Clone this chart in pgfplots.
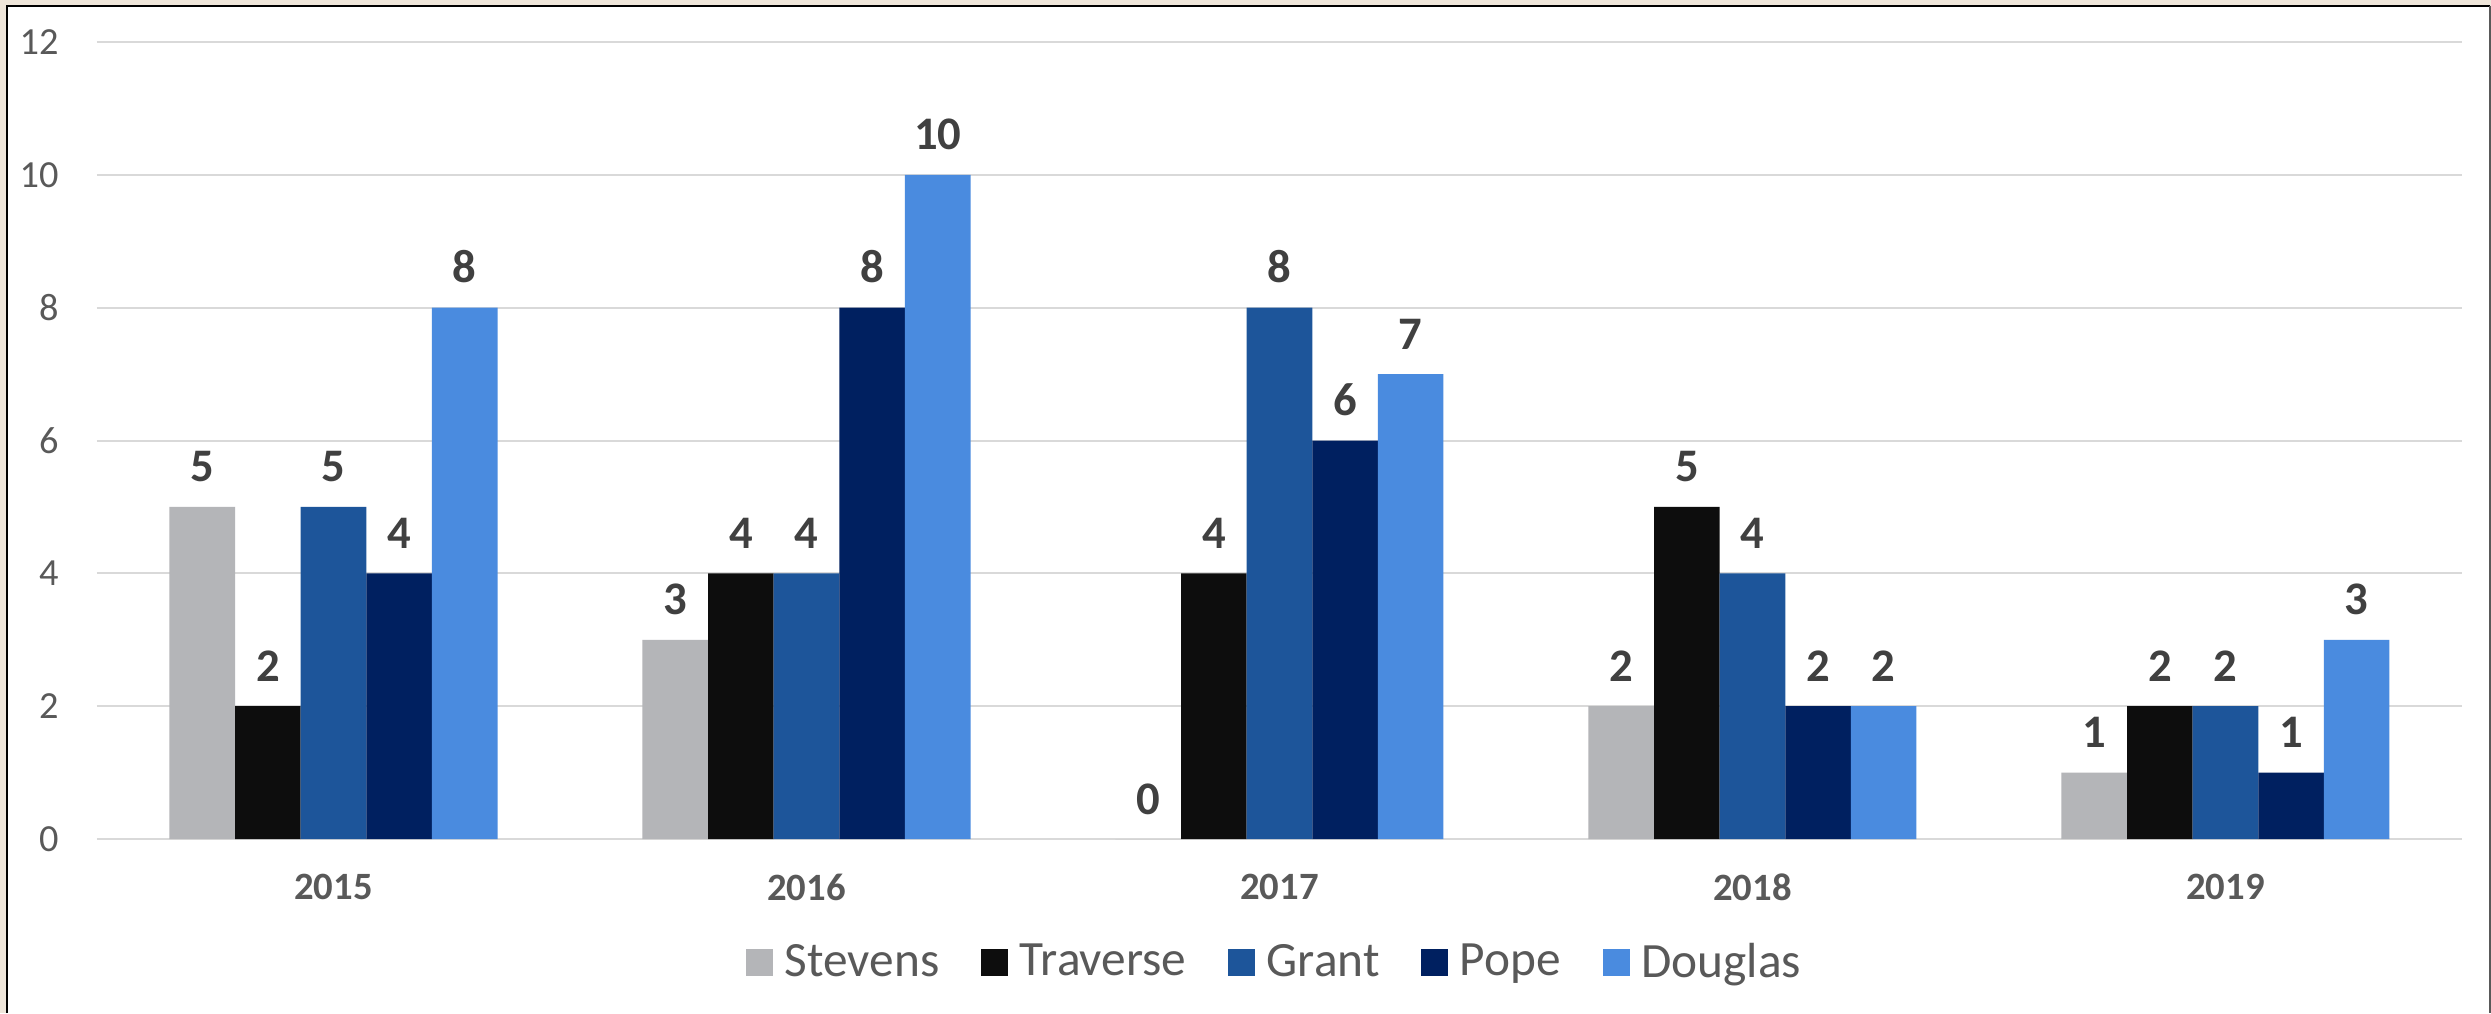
\documentclass[border=0pt]{standalone}
\usepackage{pgfplots}
\pgfplotsset{compat=1.18}
\usepackage{fontspec}
\setmainfont{Carlito}

\definecolor{stevens}{HTML}{B4B5B8}
\definecolor{traverse}{HTML}{0D0D0D}
\definecolor{grant}{HTML}{1D559A}
\definecolor{pope}{HTML}{002060}
\definecolor{douglas}{HTML}{4A8BDF}
\definecolor{framebg}{HTML}{EFE6DA}
\definecolor{gridgray}{HTML}{D9D9D9}
\definecolor{labgray}{HTML}{595959}
\definecolor{valgray}{HTML}{404040}

\begin{document}
\begin{tikzpicture}
    % screenshot frame, 1 px = 0.3pt
    \begin{scope}[x=0.3pt,y=0.3pt]
    \useasboundingbox (0,0) rectangle (2491,1013);
    \fill[framebg] (0,0) rectangle (2491,1013);
    \fill[white] (7,0) rectangle (2490,1007);
    \draw[line width=0.6pt, black] (7,0) -- (7,1007) -- (2490,1007);
    \draw[line width=0.6pt, black!65] (2490,1007) -- (2490,0);
    \end{scope}

    \begin{axis}[
        at={(29.1pt,52.2pt)}, anchor=south west,
        scale only axis,
        width=709.5pt,
        height=239.1pt,
        ybar=0pt,
        bar width=0.1387,
        xmin=-0.5, xmax=4.5,
        ymin=0, ymax=12,
        xtick={0,1,2,3,4},
        xticklabels={2015,2016,2017,2018,2019},
        ytick={0,2,4,6,8,10,12},
        major tick length=0pt,
        axis line style={draw=none},
        ymajorgrids=true,
        grid style={gridgray, line width=0.6pt},
        /pgf/number format/assume math mode=true,
        yticklabel style={font=\fontsize{11.5}{13}\selectfont, text=labgray, anchor=east, xshift=-8pt},
        xticklabel style={font=\fontsize{11.6}{13}\selectfont\bfseries, text=labgray, anchor=north, yshift=-7pt},
        nodes near coords,
        every node near coord/.append style={font=\fontsize{14}{16}\selectfont\bfseries, text=valgray, anchor=south, inner sep=0pt, yshift=7.2pt},
        legend columns=5,
        legend style={draw=none, fill=none, at={(0.5,-0.155)}, anchor=center,
            font=\fontsize{14.8}{17}\selectfont, text=labgray,
            /tikz/every even column/.append style={column sep=9pt},
            nodes={inner sep=3.5pt}},
        legend image code/.code={\fill[#1] (0pt,-4.05pt) rectangle (8.1pt,4.05pt);},
    ]

    \addplot[fill=stevens, draw=none] coordinates {(0,5) (1,3) (2,0) (3,2) (4,1)};
    \addplot[fill=traverse, draw=none] coordinates {(0,2) (1,4) (2,4) (3,5) (4,2)};
    \addplot[fill=grant, draw=none] coordinates {(0,5) (1,4) (2,8) (3,4) (4,2)};
    \addplot[fill=pope, draw=none] coordinates {(0,4) (1,8) (2,6) (3,2) (4,1)};
    \addplot[fill=douglas, draw=none] coordinates {(0,8) (1,10) (2,7) (3,2) (4,3)};

    \legend{Stevens, Traverse, Grant, Pope, Douglas}
    \end{axis}
\end{tikzpicture}
\end{document}
